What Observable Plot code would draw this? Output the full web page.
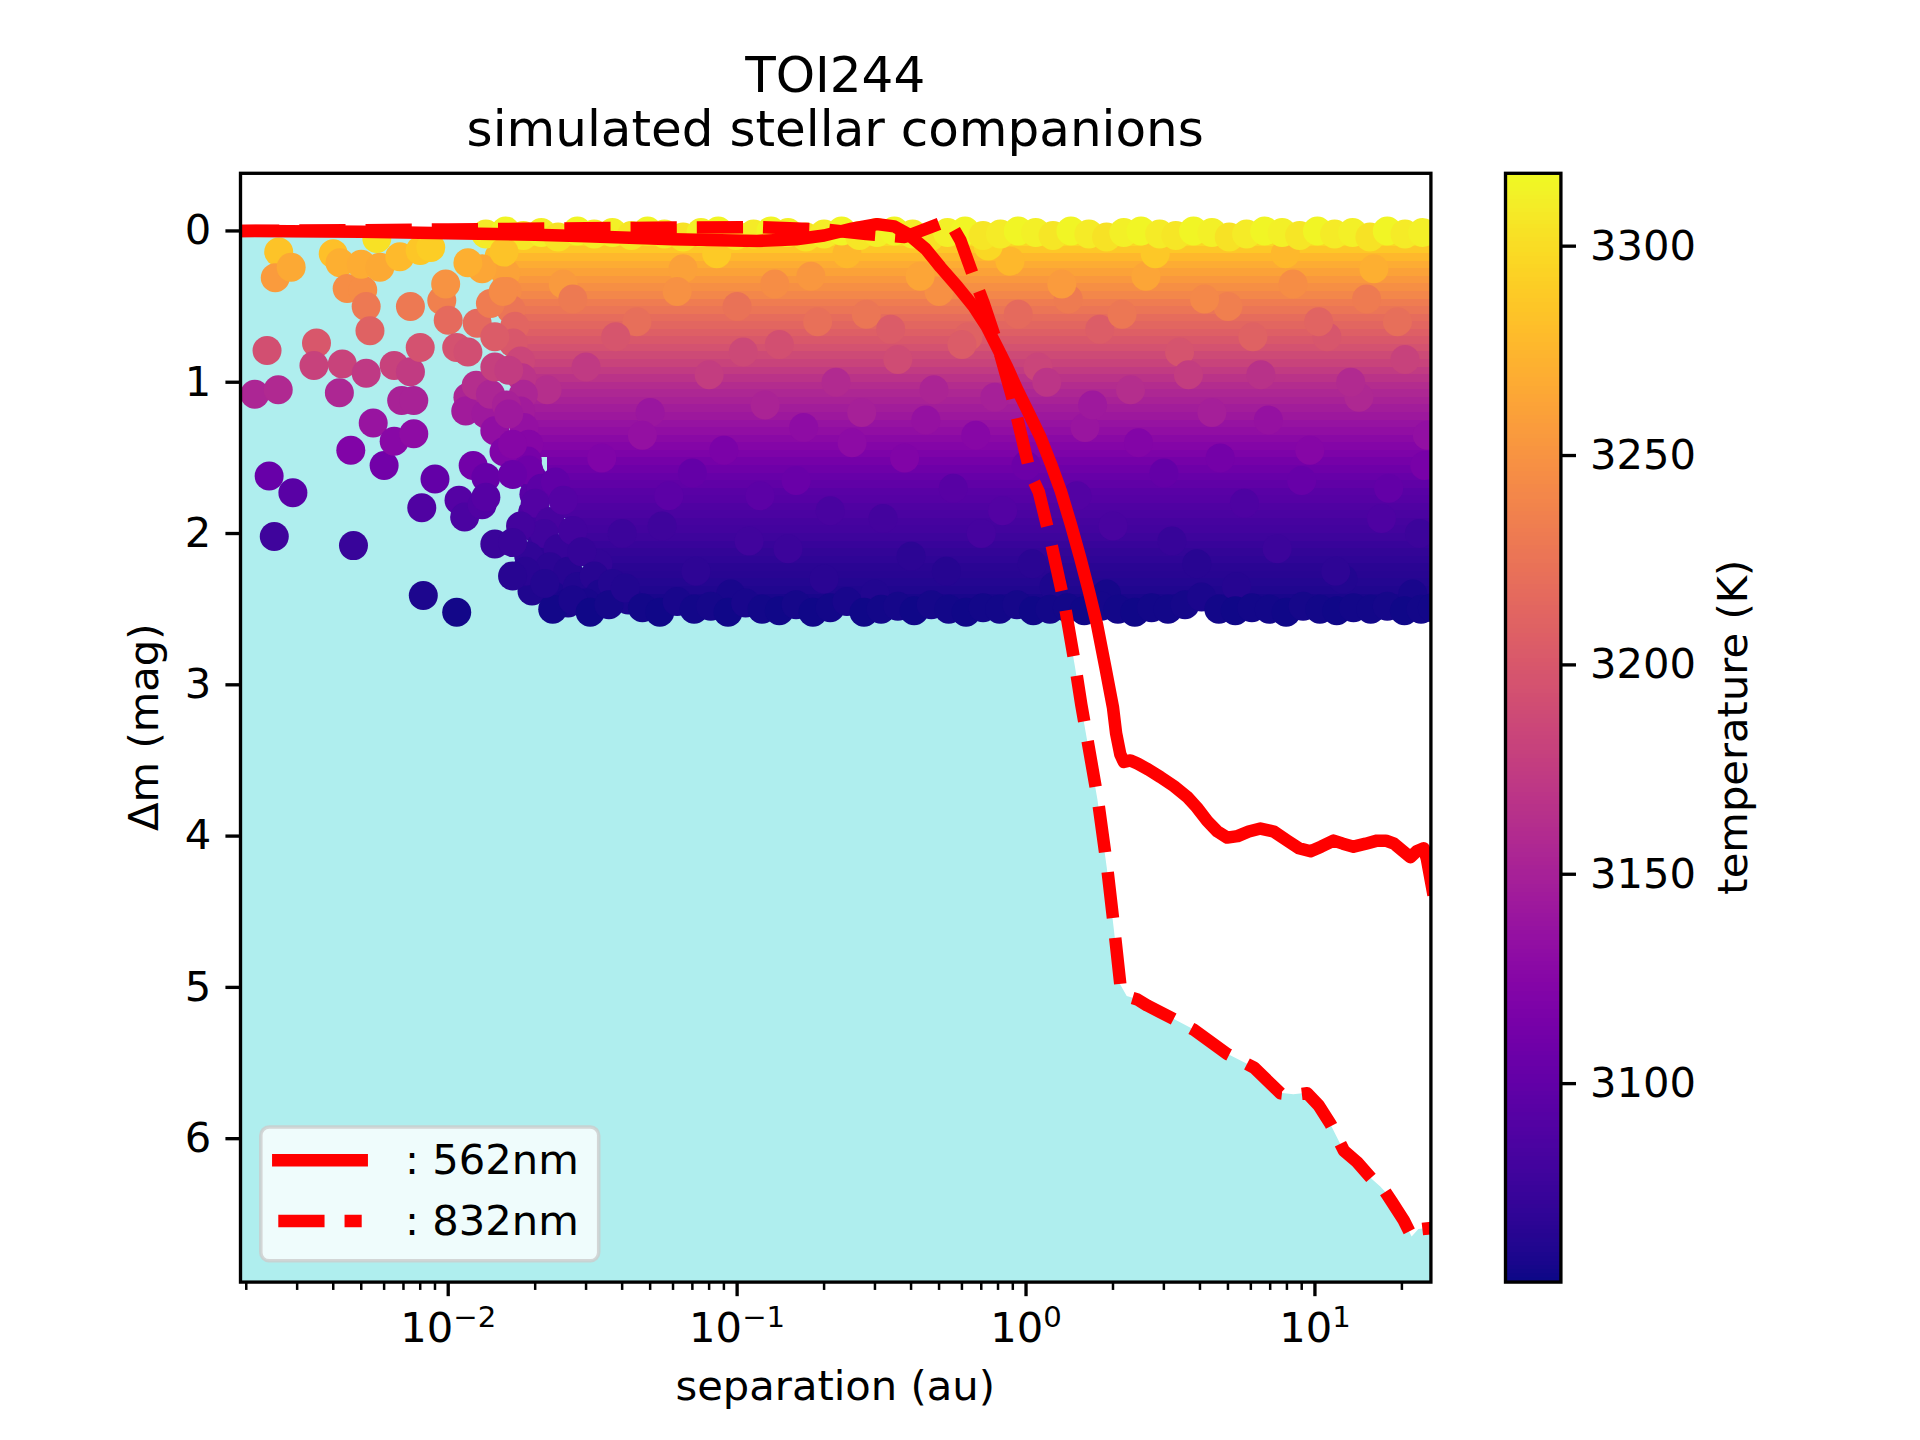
<!DOCTYPE html>
<html><head><meta charset="utf-8">
<script src="https://cdn.jsdelivr.net/npm/d3@7"></script>
<script src="https://cdn.jsdelivr.net/npm/@observablehq/plot@0.6"></script>
<style>
html,body{margin:0;padding:0;background:#fff;overflow:hidden;}
#wrap{position:relative;width:1920px;height:1440px;background:#fff;font-family:"DejaVu Sans",sans-serif;}
#wrap svg{position:absolute;left:0;top:0;max-width:none;}
</style></head>
<body><div id="wrap"></div>
<script>
// ---------------- data ----------------
const titleLines = ["TOI244", "simulated stellar companions"];
const xLabel = "separation (au)";
const yLabel = "Δm (mag)";
const cbLabel = "temperature (K)";
const legendLabels = [": 562nm", ": 832nm"];

const xTicks = [0.01, 0.1, 1, 10];
const xTickExp = ["−2", "−1", "0", "1"];
const xMinorTicks = [0.002,0.003,0.004,0.005,0.006,0.007,0.008,0.009,
  0.02,0.03,0.04,0.05,0.06,0.07,0.08,0.09,
  0.2,0.3,0.4,0.5,0.6,0.7,0.8,0.9,
  2,3,4,5,6,7,8,9,20];
const yTicks = [0, 1, 2, 3, 4, 5, 6];
const cbTicks = [3100, 3150, 3200, 3250, 3300];

// contrast curves
const sep562 = [0.0018,0.005,0.01,0.02,0.03,0.06,0.117,0.16,0.2,0.25,0.305,0.35,0.39,0.45,0.506,0.58,0.659,0.73,0.795,0.86,0.933,1.02,1.12,1.22,1.32,1.43,1.54,1.65,1.76,1.88,2.0,2.05,2.12,2.18,2.3,2.43,2.65,2.92,3.25,3.61,3.9,4.24,4.6,4.97,5.4,5.9,6.48,7.2,8.02,8.8,9.66,10.5,11.6,12.5,13.6,15,16.4,17.6,18.8,20.2,21.4,22.5,23.8,24.4,25.5];
const dm562 = [0.0,0.005,0.015,0.025,0.035,0.055,0.066,0.055,0.03,-0.015,-0.045,-0.03,0.02,0.12,0.24,0.37,0.50,0.63,0.77,0.90,1.05,1.20,1.36,1.54,1.72,1.94,2.16,2.38,2.60,2.88,3.15,3.32,3.46,3.51,3.50,3.52,3.56,3.61,3.67,3.74,3.81,3.90,3.97,4.01,4.00,3.97,3.95,3.97,4.03,4.08,4.10,4.07,4.03,4.05,4.07,4.05,4.03,4.03,4.05,4.10,4.14,4.10,4.08,4.15,4.35];
const sep832 = [0.0018,0.005,0.01,0.03,0.06,0.12,0.2,0.28,0.38,0.46,0.53,0.56,0.593,0.669,0.714,0.795,0.896,1.036,1.108,1.209,1.359,1.483,1.553,1.773,1.91,2.03,2.12,2.24,2.43,2.63,3.25,3.81,4.97,6.15,7.6,8.45,9.4,10.3,11.3,12.6,14.0,15.8,16.9,17.5,18.5,20.3,21.7,22.9,25.5];
const dm832 = [0.0,-0.005,-0.01,-0.018,-0.022,-0.025,-0.01,0.02,0.04,-0.02,-0.065,-0.02,0.063,0.339,0.48,0.746,1.10,1.606,1.727,2.024,2.465,2.884,3.13,3.76,4.21,4.65,4.98,5.06,5.08,5.12,5.21,5.28,5.44,5.53,5.70,5.71,5.70,5.78,5.90,6.08,6.155,6.27,6.32,6.35,6.42,6.54,6.65,6.60,6.59];
const fillBottom = 7.0;

// dense region of simulated companions: Δm bands, left edge (au) and colour (K)
const bandTop = [0,0.05,0.1,0.15,0.2,0.25,0.3,0.35,0.4,0.45,0.5,0.55,0.6,0.65,0.7,0.75,0.8,0.85,0.9,0.95,
  1.0,1.05,1.1,1.15,1.2,1.25,1.3,1.35,1.4,1.45,1.5,1.55,1.6,1.65,1.7,1.75,1.8,1.85,1.9,1.95,
  2.0,2.05,2.1,2.15,2.2,2.25,2.3,2.35,2.4];
const bandBottom = [0.05,0.1,0.15,0.2,0.25,0.3,0.35,0.4,0.45,0.5,0.55,0.6,0.65,0.7,0.75,0.8,0.85,0.9,0.95,1.0,
  1.05,1.1,1.15,1.2,1.25,1.3,1.35,1.4,1.45,1.5,1.55,1.6,1.65,1.7,1.75,1.8,1.85,1.9,1.95,2.0,
  2.05,2.1,2.15,2.2,2.25,2.3,2.35,2.4,2.47];
const bandLeft = [0.016,0.016,0.016,0.016,0.017,0.017,0.017,0.017,0.017,0.017,
  0.018,0.018,0.018,0.018,0.018,0.018,0.019,0.019,0.019,0.019,
  0.019,0.019,0.019,0.019,0.019,0.019,0.02,0.02,0.02,0.02,
  0.022,0.022,0.022,0.022,0.024,0.024,0.024,0.024,0.026,0.026,
  0.026,0.026,0.03,0.03,0.03,0.03,0.04,0.04,0.045];
const bandTemp = [3307,3297,3287,3277,3268,3261,3254,3247,3240,3232,
  3226,3219,3213,3207,3201,3195,3188,3181,3174,3167,
  3161,3156,3151,3146,3142,3137,3133,3128,3123,3118,
  3113,3108,3104,3099,3095,3092,3088,3085,3082,3080,
  3077,3074,3071,3069,3066,3064,3062,3060,3057];
const sepMax = 25.6;

// individual companions inside the dense region
const interiorSep = [0.025,0.03,0.034,0.04,0.045,0.05,0.058,0.065,0.072,0.08,
 0.09,0.1,0.11,0.125,0.14,0.16,0.18,0.2,0.22,0.25,
 0.28,0.32,0.36,0.4,0.45,0.5,0.56,0.63,0.7,0.78,
 0.88,1.0,1.1,1.25,1.4,1.6,1.8,2.0,2.3,2.6,
 3.0,3.4,3.9,4.4,5.0,5.7,6.5,7.4,8.4,9.6,
 11,12.5,14.2,16,18,20.5,23,24.5];
const interiorDm = [0.35,0.9,1.5,2.0,0.6,1.2,1.75,0.25,2.25,0.95,
 1.45,0.5,2.05,1.15,0.75,1.65,0.3,2.3,1.0,1.4,
 0.55,1.9,0.85,2.15,1.25,0.4,1.7,0.7,2.0,1.1,
 0.2,1.55,0.9,2.35,0.45,1.3,0.65,1.95,1.05,0.3,
 1.6,0.8,2.2,1.2,0.5,1.8,0.95,2.1,0.35,1.45,
 0.7,2.3,1.1,0.25,1.7,0.85,2.0,1.35];
const interiorTemp = [3255,3173,3120,3076,3221,3140,3097,3260,3068,3176,
 3117,3224,3079,3152,3193,3105,3253,3066,3159,3130,
 3227,3081,3190,3067,3136,3248,3093,3209,3082,3149,
 3277,3107,3183,3059,3231,3139,3205,3084,3162,3263,
 3102,3197,3065,3148,3234,3087,3166,3076,3245,3125,
 3199,3061,3157,3270,3101,3180,3076,3134];

const interior2Sep = [0.022,0.027,0.033,0.038,0.047,0.055,0.062,0.07,0.085,0.095,
 0.105,0.12,0.135,0.15,0.17,0.19,0.21,0.24,0.27,0.3,
 0.34,0.38,0.43,0.48,0.53,0.6,0.67,0.74,0.83,0.94,
 1.05,1.18,1.33,1.5,1.7,1.9,2.15,2.45,2.8,3.2,
 3.65,4.15,4.7,5.35,6.1,6.9,7.9,9.0,10.3,11.8,
 13.3,15.1,17,19.3,21.8,24];
const interior2Dm = [1.05,0.45,2.2,0.7,1.35,1.95,0.4,1.6,0.15,2.4,
 0.8,1.75,0.35,2.1,1.3,0.6,1.85,0.15,1.2,2.4,
 0.65,1.5,0.3,1.05,2.25,0.75,1.35,0.1,1.85,0.55,
 2.2,1.0,0.35,1.75,1.15,2.4,0.55,1.4,0.15,2.05,
 0.95,0.45,1.5,2.35,0.7,1.25,0.15,1.65,0.6,2.25,
 1.0,0.45,1.9,0.6,2.4,1.55];
const interior2Temp = [3163,3230,3071,3198,3135,3078,3249,3102,3288,3057,
 3187,3097,3245,3076,3131,3222,3084,3277,3149,3061,
 3204,3121,3263,3153,3063,3204,3126,3297,3090,3217,
 3066,3169,3256,3090,3143,3056,3228,3122,3287,3073,
 3176,3241,3112,3063,3209,3136,3277,3104,3211,3068,
 3159,3231,3087,3221,3057,3115];

// left edge of the dense region
const leftSep = [0.0155,0.015,0.0158,0.016,0.0165,0.017,0.0168,0.0178,0.018,0.0182,0.0178,0.0183,0.019,0.0188,0.0195,0.0198,0.0196,0.0202,0.021,0.0208,0.0225,0.0245,0.026];
const leftDm = [0.06,0.17,0.28,0.40,0.52,0.63,0.74,0.86,0.97,1.08,1.19,1.30,1.41,1.52,1.63,1.74,1.86,1.97,2.08,2.19,2.29,2.39,2.46];
const leftTemp = [3300,3278,3261,3243,3226,3212,3200,3184,3168,3155,3145,3135,3125,3114,3103,3094,3087,3080,3074,3068,3063,3059,3057];

// ragged transition at the lower left of the dense region
const edgeSep = [0.019,0.021,0.0235,0.02,0.0225,0.025,0.0215,0.024,0.027,0.019,0.0225,0.026,0.029,0.028,0.032,0.0335,0.037,0.03,0.042,0.0195,0.0178,0.0185];
const edgeDm = [1.58,1.70,1.66,1.80,1.92,1.78,2.0,2.1,1.98,2.15,2.22,2.25,2.12,2.35,2.28,2.4,2.33,2.46,2.44,2.38,1.95,2.25];
const edgeTemp = [3109,3097,3100,3090,3083,3091,3079,3073,3080,3070,3067,3065,3072,3061,3064,3059,3062,3057,3058,3060,3081,3066];

// top (brightest) row
const topSep = [0.0135,0.0158,0.0182,0.021,0.024,0.028,0.032,0.037,0.043,0.049,
 0.056,0.065,0.075,0.086,0.099,0.114,0.131,0.15,0.173,0.2,
 0.23,0.265,0.305,0.35,0.405,0.465,0.535,0.615,0.71,0.815,
 0.94,1.08,1.24,1.43,1.65,1.9,2.18,2.5,2.9,3.3,
 3.8,4.4,5.05,5.8,6.7,7.7,8.85,10.2,11.7,13.5,
 15.5,17.8,20.5,23.6];
const topDm = [0.02,0.00,0.03,0.01,0.04,0.00,0.02,0.01,0.03,0.00,
 0.02,0.04,0.01,0.00,0.03,0.02,0.00,0.01,0.04,0.02,
 0.00,0.03,0.01,0.00,0.02,0.04,0.01,0.00,0.03,0.02,
 0.00,0.01,0.03,0.00,0.02,0.04,0.01,0.00,0.02,0.03,
 0.00,0.01,0.04,0.02,0.00,0.01,0.03,0.00,0.02,0.01,
 0.04,0.00,0.02,0.01];
const topTemp = [3309,3315,3306,3312,3303,3315,3309,3312,3306,3315,
 3309,3303,3312,3315,3306,3309,3315,3312,3303,3309,
 3315,3306,3312,3315,3309,3303,3312,3315,3306,3309,
 3315,3312,3306,3315,3309,3303,3312,3315,3309,3306,
 3315,3312,3303,3309,3315,3312,3306,3315,3309,3312,
 3303,3315,3309,3312];

// bottom (faintest) row
const bottomSep = [0.023,0.027,0.031,0.036,0.041,0.047,0.054,0.062,0.071,0.081,
 0.093,0.107,0.122,0.14,0.16,0.183,0.21,0.24,0.275,0.315,
 0.36,0.41,0.47,0.54,0.62,0.71,0.81,0.93,1.06,1.21,
 1.39,1.59,1.82,2.08,2.38,2.72,3.1,3.55,4.05,4.65,
 5.3,6.05,6.95,7.95,9.1,10.4,11.9,13.6,15.6,17.8,
 20.4,23.3,25.5];
const bottomDm = [2.50,2.44,2.52,2.47,2.36,2.49,2.52,2.45,2.50,2.48,
 2.52,2.46,2.50,2.51,2.47,2.52,2.49,2.45,2.52,2.50,
 2.48,2.51,2.47,2.50,2.52,2.49,2.50,2.47,2.51,2.50,
 2.49,2.51,2.48,2.50,2.52,2.49,2.50,2.47,2.42,2.50,
 2.51,2.49,2.50,2.52,2.48,2.50,2.51,2.49,2.50,2.48,
 2.51,2.50,2.49];
const bottomTemp = [3055,3058,3054,3056,3061,3055,3054,3057,3055,3056,
 3054,3057,3055,3054,3056,3054,3055,3057,3054,3055,
 3056,3054,3056,3055,3054,3055,3055,3056,3054,3055,
 3055,3054,3056,3055,3054,3055,3055,3056,3058,3055,
 3054,3055,3055,3054,3056,3055,3054,3055,3055,3056,
 3054,3055,3055];

// sparse companions at small separations
const sparseSep = [0.00214,0.00258,0.00236,0.00259,0.00252,0.00286,0.0024,0.0029,0.0025,0.0035,
 0.00343,0.0040,0.00422,0.0042,0.0043,0.0046,0.0047,0.00447,0.00506,0.0050,
 0.0052,0.00536,0.0052,0.00566,0.0055,0.0058,0.0060,0.0065,0.0065,0.0068,
 0.0069,0.0074,0.0074,0.0076,0.0076,0.0080,0.0080,0.0081,0.0082,0.0087,
 0.0090,0.0095,0.0098,0.0100,0.0107,0.0107,0.0109,0.0114,0.0117,0.0115,
 0.0117,0.0122,0.0125,0.0126,0.0131,0.0131,0.0135,0.0135,0.0135,0.0140,
 0.0140,0.0145,0.0145,0.0145,0.0145,0.0155,0.0156,0.0159,0.0162,0.0162,
 0.0167,0.0167,0.0167,0.0167,0.0216,0.0117,0.0156];
const sparseDm = [1.08,1.05,0.79,0.14,0.31,0.24,1.62,1.73,2.02,0.74,
 0.89,0.15,0.21,1.07,0.88,1.45,2.08,0.38,0.39,0.22,
 0.50,0.66,0.94,0.05,1.27,0.24,1.55,0.89,1.39,0.17,
 1.12,0.50,0.93,1.12,1.34,0.13,0.77,1.83,2.41,0.11,
 1.64,0.46,0.35,0.59,0.77,2.52,1.78,1.89,1.10,1.19,
 0.80,1.55,1.02,0.61,0.25,1.81,1.21,1.63,1.76,0.48,
 1.08,0.70,0.90,1.32,2.07,0.40,1.46,1.15,0.92,1.21,
 1.41,1.61,2.06,2.28,2.33,0.21,0.14];
const sparseTemp = [3155,3158,3193,3284,3256,3266,3104,3095,3078,3200,
 3180,3282,3270,3156,3181,3121,3074,3246,3245,3268,
 3229,3209,3172,3302,3138,3266,3111,3180,3127,3278,
 3151,3229,3174,3151,3131,3286,3195,3088,3059,3290,
 3101,3235,3250,3217,3195,3055,3091,3085,3153,3145,
 3192,3111,3162,3215,3264,3089,3143,3103,3092,3232,
 3155,3204,3178,3133,3075,3243,3120,3150,3175,3143,
 3125,3105,3075,3064,3062,3270,3284];

// ---------------- layout ----------------
const W = 1920, H = 1440;
const M = {left: 240, right: 489.6, top: 172.8, bottom: 158.4};
const xDomain = [0.00191, 25.2];
const yDomain = [-0.381, 6.948];
const tempDomain = [3052.6, 3317.4];
const FS = 41.67;
const FONT = "'DejaVu Sans', sans-serif";

function rows(sep, dm, temp) {
  return sep.map((s, i) => ({sep: s, dm: dm[i], temp: temp ? temp[i] : null}));
}
const companions = [
  ...rows(interiorSep, interiorDm, interiorTemp),
  ...rows(interior2Sep, interior2Dm, interior2Temp),
  ...rows(leftSep, leftDm, leftTemp),
  ...rows(edgeSep, edgeDm, edgeTemp),
  ...rows(topSep, topDm, topTemp),
  ...rows(bottomSep, bottomDm, bottomTemp),
  ...rows(sparseSep, sparseDm, sparseTemp)
];
const bands = bandTop.map((t, i) => ({top: t, bottom: bandBottom[i], left: bandLeft[i], right: sepMax, temp: bandTemp[i]}));
const line562 = rows(sep562, dm562);
const line832 = rows(sep832, dm832).map(d => ({...d, base: fillBottom}));

const main = Plot.plot({
  width: W, height: H,
  marginLeft: M.left, marginRight: M.right, marginTop: M.top, marginBottom: M.bottom,
  style: {fontFamily: FONT, fontSize: FS + "px", background: "transparent", color: "black", overflow: "visible"},
  x: {type: "log", domain: xDomain, label: null},
  y: {domain: yDomain, reverse: true, label: null},
  color: {type: "linear", scheme: "plasma", domain: tempDomain},
  marks: [
    Plot.areaY(line832, {x: "sep", y1: "dm", y2: "base", fill: "#afeeee", clip: true}),
    Plot.rect(bands, {x1: "left", x2: "right", y1: "top", y2: "bottom", fill: "temp", clip: true, shapeRendering: "crispEdges"}),
    Plot.dot(companions, {x: "sep", y: "dm", r: 14.5, fill: "temp", clip: true}),
    Plot.line(line562, {x: "sep", y: "dm", stroke: "#ff0000", strokeWidth: 12.5, strokeLinecap: "square", strokeLinejoin: "round", clip: true}),
    Plot.line(line832, {x: "sep", y: "dm", stroke: "#ff0000", strokeWidth: 12.5, strokeDasharray: "46.25,20", strokeLinecap: "butt", strokeLinejoin: "round", clip: true}),
    Plot.frame({stroke: "black", strokeWidth: 3.33}),
    Plot.axisX(xMinorTicks, {tickSize: 8.33, strokeWidth: 2.5, tickFormat: () => "", label: null}),
    Plot.axisX(xTicks, {tickSize: 14.58, strokeWidth: 3.33, tickPadding: 16, fontSize: FS,
      tickFormat: d => "10^" + xTickExp[xTicks.indexOf(d)], label: null}),
    Plot.axisY(yTicks, {tickSize: 14.58, strokeWidth: 3.33, tickPadding: 14.58, fontSize: FS,
      tickFormat: d => String(d), label: null})
  ]
});

// superscript exponents on log tick labels
d3.select(main).selectAll("text").each(function () {
  const t = this.textContent;
  if (!t || t.indexOf("^") < 0) return;
  const parts = t.split("^");
  const sel = d3.select(this);
  sel.text(parts[0]);
  sel.append("tspan").attr("dy", -15).attr("font-size", FS * 0.7).text(parts[1]);
});

const svg = d3.select(main);
const tg = svg.append("g").attr("font-family", FONT).attr("fill", "black");
tg.append("text").attr("x", 835.2).attr("y", 92.3).attr("text-anchor", "middle").attr("font-size", 50).text(titleLines[0]);
tg.append("text").attr("x", 835.2).attr("y", 146).attr("text-anchor", "middle").attr("font-size", 50).text(titleLines[1]);
tg.append("text").attr("x", 835.2).attr("y", 1400).attr("text-anchor", "middle").attr("font-size", FS).text(xLabel);
tg.append("text").attr("transform", "translate(158,727.2) rotate(-90)").attr("text-anchor", "middle").attr("font-size", FS).text(yLabel);

// legend
const lg = svg.append("g").attr("font-family", FONT);
lg.append("rect").attr("x", 260.8).attr("y", 1127).attr("width", 337.9).attr("height", 133.8).attr("rx", 8.3)
  .attr("fill", "white").attr("fill-opacity", 0.8).attr("stroke", "#cccccc").attr("stroke-opacity", 0.8).attr("stroke-width", 3.5);
lg.append("line").attr("x1", 278.3).attr("x2", 361.7).attr("y1", 1160.3).attr("y2", 1160.3)
  .attr("stroke", "#ff0000").attr("stroke-width", 12.5).attr("stroke-linecap", "square");
lg.append("line").attr("x1", 278.3).attr("x2", 361.7).attr("y1", 1221).attr("y2", 1221)
  .attr("stroke", "#ff0000").attr("stroke-width", 12.5).attr("stroke-linecap", "butt").attr("stroke-dasharray", "46.25,20");
lg.append("text").attr("x", 405).attr("y", 1174).attr("text-anchor", "start").attr("font-size", FS).attr("fill", "black").text(legendLabels[0]);
lg.append("text").attr("x", 405).attr("y", 1235).attr("text-anchor", "start").attr("font-size", FS).attr("fill", "black").text(legendLabels[1]);

// colorbar
const cbSteps = d3.range(tempDomain[0], tempDomain[1], 0.5);
const cb = Plot.plot({
  width: W, height: H,
  marginLeft: 1505, marginRight: 359.6, marginTop: M.top, marginBottom: M.bottom,
  style: {fontFamily: FONT, fontSize: FS + "px", background: "transparent", color: "black", overflow: "visible"},
  x: {domain: [0, 1], axis: null},
  y: {domain: tempDomain, label: null},
  color: {type: "linear", scheme: "plasma", domain: tempDomain},
  marks: [
    Plot.rect(cbSteps, {x1: () => 0, x2: () => 1, y1: d => d, y2: d => Math.min(d + 0.5, tempDomain[1]), fill: d => d + 0.25, shapeRendering: "crispEdges"}),
    Plot.frame({stroke: "black", strokeWidth: 3.33}),
    Plot.axisY(cbTicks, {anchor: "right", tickSize: 14.58, strokeWidth: 3.33, tickPadding: 14.58, fontSize: FS,
      tickFormat: d => String(d), label: null})
  ]
});
d3.select(cb).append("text").attr("transform", "translate(1747,727.2) rotate(-90)").attr("text-anchor", "middle")
  .attr("font-family", FONT).attr("font-size", FS).attr("fill", "black").text(cbLabel);

const wrap = document.getElementById("wrap");
wrap.appendChild(main);
wrap.appendChild(cb);
</script>
</body></html>
